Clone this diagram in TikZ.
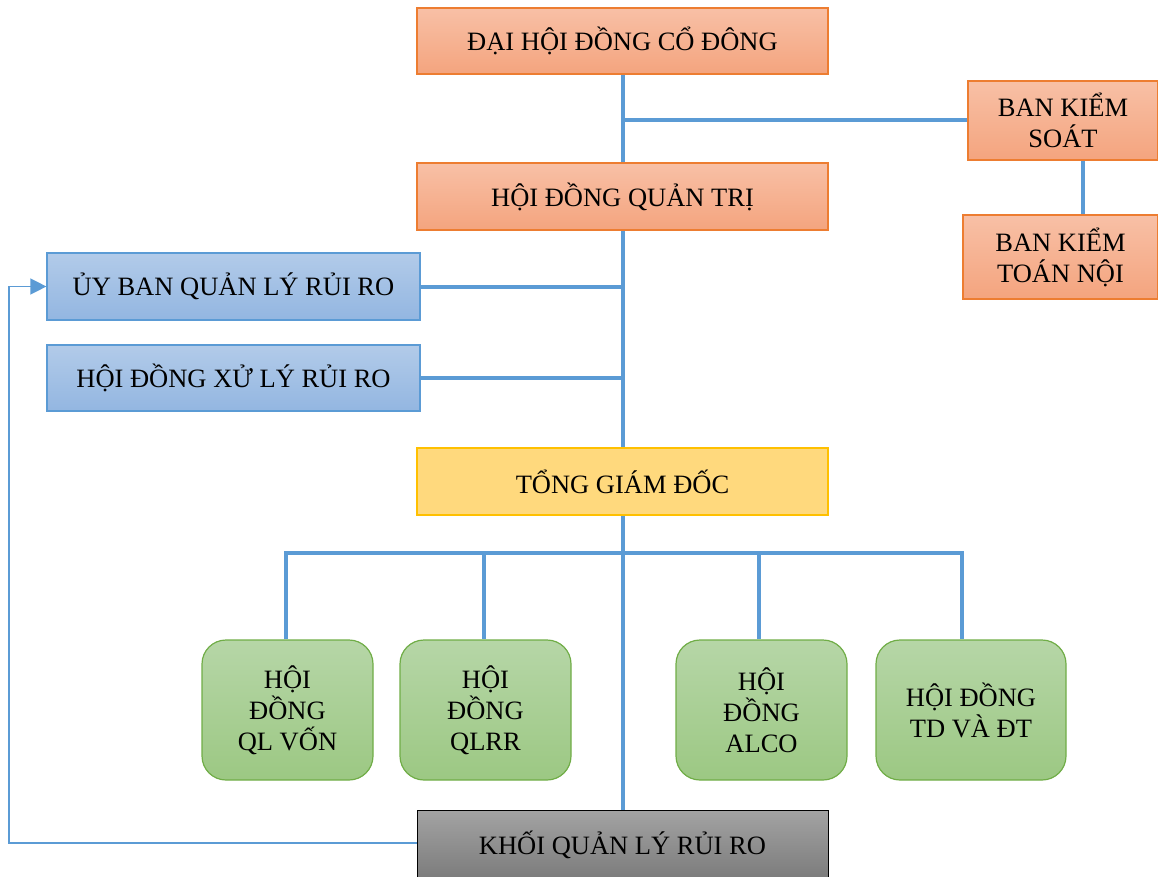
\documentclass[tikz,border=0pt]{standalone}
\usepackage{fontspec}
\setmainfont{Liberation Serif}
\usetikzlibrary{arrows.meta}
\definecolor{ln}{HTML}{5B9BD5}
\definecolor{salT}{HTML}{F8C0A6}
\definecolor{salB}{HTML}{F4A47E}
\definecolor{salD}{HTML}{ED7D31}
\definecolor{bluT}{HTML}{B2CBE9}
\definecolor{bluB}{HTML}{93B6E1}
\definecolor{yel}{HTML}{FFD97D}
\definecolor{yelD}{HTML}{FFC000}
\definecolor{grT}{HTML}{B6D6A7}
\definecolor{grB}{HTML}{9CC883}
\definecolor{grD}{HTML}{70AD47}
\definecolor{gyT}{HTML}{A3A3A3}
\definecolor{gyB}{HTML}{7B7B7B}
\begin{document}
\begin{tikzpicture}[x=1pt,y=-1pt,
  every node/.style={font=\fontsize{26.5}{31}\selectfont, align=center, inner sep=0pt},
  salbox/.style={draw=salD, line width=1.2pt, top color=salT, bottom color=salB},
  blubox/.style={draw=ln, line width=1.2pt, top color=bluT, bottom color=bluB},
  yelbox/.style={draw=yelD, line width=1.2pt, fill=yel},
  grbox/.style={draw=grD, line width=1.2pt, top color=grT, bottom color=grB, rounded corners=24pt, minimum width=171pt, minimum height=140pt},
  gybox/.style={draw=black, line width=1pt, top color=gyT, bottom color=gyB},
  conn/.style={draw=ln, line width=4pt},
  thin/.style={draw=ln, line width=1.4pt}]
\useasboundingbox (0,0) rectangle (1158,877);

\node[salbox, minimum width=411pt, minimum height=66pt] (dh) at (622.5,41) {ĐẠI HỘI ĐỒNG CỔ ĐÔNG};
\node[salbox, minimum width=190pt, minimum height=79pt] (bks) at (1063,120.5) {BAN KIỂM\\SOÁT};
\node[salbox, minimum width=411pt, minimum height=67pt] (hq) at (622.5,196.5) {HỘI ĐỒNG QUẢN TRỊ};
\node[salbox, minimum width=195pt, minimum height=84pt] (bkt) at (1060.5,257) {BAN KIỂM\\TOÁN NỘI};
\node[blubox, minimum width=373pt, minimum height=67pt] (ub) at (233.5,286.5) {ỦY BAN QUẢN LÝ RỦI RO};
\node[blubox, minimum width=373pt, minimum height=66pt] (xl) at (233.5,378) {HỘI ĐỒNG XỬ LÝ RỦI RO};
\node[yelbox, minimum width=411pt, minimum height=67pt] (tg) at (622.5,481.5) {TỔNG GIÁM ĐỐC};
\node[grbox] (g1) at (287.5,710) {HỘI\\ĐỒNG\\QL VỐN};
\node[grbox] (g2) at (485.5,710) {HỘI\\ĐỒNG\\QLRR};
\node[grbox] (g3) at (761.5,710) {HỘI\\ĐỒNG\\ALCO};
\node[grbox, minimum width=190pt] (g4) at (971,710) {HỘI ĐỒNG\\TD VÀ ĐT};
\node[gybox, minimum width=411pt, minimum height=70pt] (kh) at (622.5,845) {KHỐI QUẢN LÝ RỦI RO};

% connectors
\draw[conn] (dh.south) -- (hq.north);
\coordinate (j1) at (dh.south |- bks.west);
\draw[conn] (j1) -- (bks.west);
\coordinate (v1) at (1083,160);
\draw[conn] (bks.south -| v1) -- (bkt.north -| v1);
\draw[conn] (hq.south) -- (tg.north);
\coordinate (j2) at (hq.south |- ub.east);
\coordinate (j3) at (hq.south |- xl.east);
\draw[conn] (ub.east) -- (j2);
\draw[conn] (xl.east) -- (j3);
\draw[conn] (tg.south) -- (kh.north);
\coordinate (b1) at (286,553);
\coordinate (b4) at (962,553);
\draw[conn] (g1.north -| b1) -- (b1) -- (b4) -- (g4.north -| b4);
\coordinate (d2) at (484,553);
\coordinate (d3) at (759,553);
\draw[conn] (d2) -- (g2.north -| d2);
\draw[conn] (d3) -- (g3.north -| d3);
\coordinate (lc) at (9,843);
\draw[thin, -{Triangle[length=16pt,width=16pt]}] (kh.west |- lc) -- (lc) |- (ub.west);
\end{tikzpicture}
\end{document}
